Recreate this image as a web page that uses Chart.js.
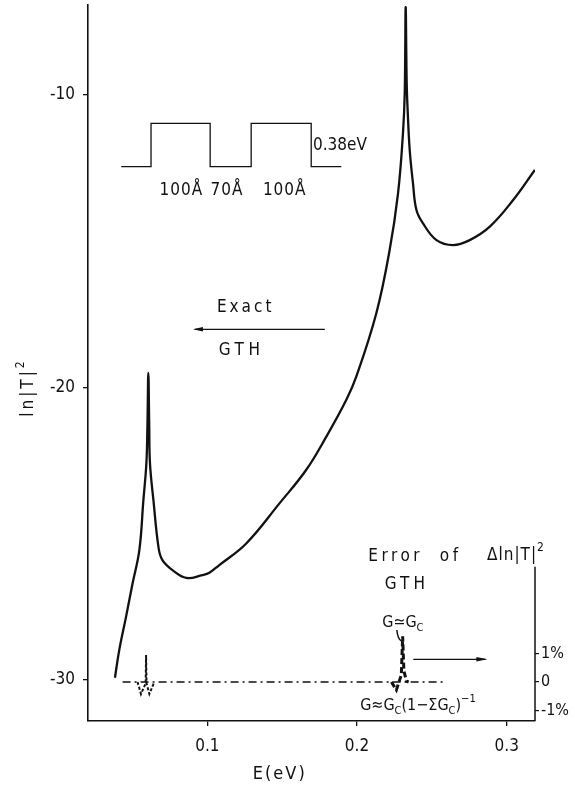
<!DOCTYPE html>
<html><head><meta charset="utf-8">
<script src="https://cdn.jsdelivr.net/npm/chart.js@4.4.1/dist/chart.umd.min.js"></script>
<style>html,body{margin:0;padding:0;background:#fff}</style>
</head><body>
<canvas id="c" width="575" height="786"></canvas>
<script>
// ---- data ----
const energy = [0.0383, 0.0412, 0.0457, 0.0501, 0.0546, 0.0573, 0.0593, 0.0600, 0.0606, 0.0612, 0.0617, 0.0640, 0.0675, 0.0700, 0.0767, 0.0860, 0.0967, 0.1014, 0.1080, 0.1260, 0.1482, 0.1660, 0.1795, 0.1928, 0.1995, 0.2129, 0.2218, 0.2274, 0.2307, 0.2319, 0.2325, 0.2332, 0.2339, 0.2352, 0.2374, 0.2397, 0.2441, 0.2531, 0.2642, 0.2753, 0.2887, 0.3043, 0.3188];
const lnT2 =   [-29.92, -28.97, -27.84, -26.69, -25.56, -23.85, -22.59, -21.3, -19.5, -21.3, -22.59, -23.85, -25.5, -25.9, -26.24, -26.51, -26.41, -26.33, -26.07, -25.33, -23.96, -22.82, -21.68, -20.43, -19.63, -17.46, -15.30, -13.36, -11.31, -9.9, -7.0, -9.6, -10.6, -11.88, -13.02, -13.93, -14.39, -14.96, -15.13, -14.96, -14.50, -13.59, -12.56];
const errBaseE = [0.0434, 0.2586];
const errBaseV = [0, 0];
const err1E = [0.0534, 0.0557, 0.0588, 0.0591, 0.0594, 0.0613, 0.0646];
const err1V = [0, -0.42, -0.05, 0.95, -0.05, -0.42, 0];
const err2E = [0.2230, 0.2263, 0.2296, 0.2305, 0.2313, 0.2330, 0.2345];
const err2V = [0, -0.28, 0.25, 1.6, 0.4, 0.03, 0];
const xTicks = [0.1, 0.2, 0.3];
const xTickLabels = ['0.1', '0.2', '0.3'];
const yTicks = [-30, -20, -10];
const y2Ticks = [-1, 0, 1];
const y2TickLabels = ['-1%', '0', '1%'];
// inset potential profile (schematic), in axis units
const profE = [0.0425, 0.0624, 0.0624, 0.1019, 0.1019, 0.1293, 0.1293, 0.1694, 0.1694, 0.1895];
const profV = [-12.45, -12.45, -10.97, -10.97, -12.45, -12.45, -10.97, -10.97, -12.45, -12.45];

const FONT = "'Liberation Sans Narrow','DejaVu Sans Condensed','Liberation Sans',sans-serif";
const INK = '#111';

function pts(xs, ys){ return xs.map((x,i)=>({x:x, y:ys[i]})); }

function runs(ctx, parts, cx, cy, size, ls){
  ctx.letterSpacing = (ls||0)+'px';
  let total = 0;
  const ws = parts.map(([t,m])=>{ ctx.font = (m? Math.round(size*0.68): size)+'px '+FONT; const w = ctx.measureText(t).width; total += w; return w; });
  let x = cx - total/2;
  ctx.textAlign='left'; ctx.textBaseline='middle';
  parts.forEach(([t,m],i)=>{
    ctx.font = (m? Math.round(size*0.68): size)+'px '+FONT;
    ctx.fillText(t, x, cy + (m===1 ? size*0.32 : m===2 ? -size*0.42 : 0));
    x += ws[i];
  });
  ctx.letterSpacing='0px';
}

function noPad(s){ s.paddingTop = 0; s.paddingBottom = 0; s.paddingLeft = 0; s.paddingRight = 0; }

const annot = {
  id:'annot',
  afterDraw(chart){
    const ctx = chart.ctx, sx = chart.scales.x, sy = chart.scales.y, sy2 = chart.scales.y2;
    const X = v=>sx.getPixelForValue(v), Y = v=>sy.getPixelForValue(v), Y2 = v=>sy2.getPixelForValue(v);
    ctx.save();
    ctx.strokeStyle = INK; ctx.fillStyle = INK;
    // partial right axis line
    ctx.lineWidth = 1.5;
    ctx.beginPath(); ctx.moveTo(X(sx.max), Y2(4.04)); ctx.lineTo(X(sx.max), chart.chartArea.bottom); ctx.stroke();
    // inset profile
    ctx.lineWidth = 1.3;
    ctx.beginPath();
    profE.forEach((e,i)=>{ const px=X(e), py=Y(profV[i]); i? ctx.lineTo(px,py) : ctx.moveTo(px,py); });
    ctx.stroke();
    // inset labels
    runs(ctx, [['100Å',0]], X(0.0826), Y(-13.28), 17, 1);
    runs(ctx, [['70Å',0]], X(0.1132), Y(-13.28), 17, 1);
    runs(ctx, [['100Å',0]], X(0.1517), Y(-13.28), 17, 1);
    ctx.font = '17px '+FONT; ctx.textAlign='left'; ctx.textBaseline='middle';
    ctx.fillText('0.38eV', X(0.1706), Y(-11.74));
    // Exact / GTH with left arrow
    runs(ctx, [['Exact',0]], X(0.1256), Y(-17.28), 17, 3);
    runs(ctx, [['GTH',0]], X(0.1229), Y(-18.75), 17, 4.5);
    ctx.lineWidth = 1.3;
    const ay = Y(-18.01);
    ctx.beginPath(); ctx.moveTo(X(0.0904)+2, ay); ctx.lineTo(X(0.1785), ay); ctx.stroke();
    ctx.beginPath(); ctx.moveTo(X(0.0904), ay); ctx.lineTo(X(0.0904)+10, ay-2.2); ctx.lineTo(X(0.0904)+10, ay+2.2); ctx.closePath(); ctx.fill();
    // Error of GTH
    runs(ctx, [['Error  of',0]], X(0.2387), Y(-25.795), 17, 3.5);
    runs(ctx, [['GTH',0]], X(0.2333), Y(-26.752), 17, 4);
    runs(ctx, [['Δln|T|',0],['2',2]], X(0.3062), Y(-25.73), 17, 1);
    runs(ctx, [['G≃G',0],['C',1]], X(0.2306), Y(-28.05), 16, 0);
    runs(ctx, [['G≈G',0],['C',1],['(1−ΣG',0],['C',1],[')',0],['−1',2]], X(0.2407), Y(-30.889), 16, 0);
    // pointer from G≃Gc
    ctx.lineWidth = 1.5;
    ctx.beginPath(); ctx.moveTo(X(0.2266), Y(-28.29)); ctx.quadraticCurveTo(X(0.2272), Y(-28.6), X(0.2296), Y(-28.66)); ctx.stroke();
    // right arrow
    const ry = Y(-29.29);
    ctx.lineWidth = 1.3;
    ctx.beginPath(); ctx.moveTo(X(0.2376), ry); ctx.lineTo(X(0.2871)-2, ry); ctx.stroke();
    ctx.beginPath(); ctx.moveTo(X(0.2871), ry); ctx.lineTo(X(0.2871)-11, ry-2.2); ctx.lineTo(X(0.2871)-11, ry+2.2); ctx.closePath(); ctx.fill();
    // axis titles
    runs(ctx, [['E(eV)',0]], X(0.1484), Y(-33.21), 18, 2);
    ctx.translate(X(-0.0195), Y(-20.0));
    ctx.rotate(-Math.PI/2);
    runs(ctx, [['ln|T|',0],['2',2]], 0, 0, 17, 3);
    ctx.restore();
  }
};

const tickFont = {family: FONT, size: 17};
new Chart(document.getElementById('c'), {
  type: 'scatter',
  data: { datasets: [
    { label:'Exact / GTH', data: pts(energy, lnT2), showLine:true, borderColor:INK, borderWidth:2.3, pointRadius:0, tension:0.4, borderJoinStyle:'round', yAxisID:'y' },
    { label:'Error of GTH (baseline)', data: pts(errBaseE, errBaseV), showLine:true, borderColor:INK, borderWidth:1.6, borderDash:[8,4,2,4], pointRadius:0, yAxisID:'y2' },
    { label:'Error near 1st resonance', data: pts(err1E, err1V), showLine:true, borderColor:INK, borderWidth:2, borderDash:[3,2], pointRadius:0, yAxisID:'y2' },
    { label:'Error near 2nd resonance', data: pts(err2E, err2V), showLine:true, borderColor:INK, borderWidth:3, borderDash:[6,3], pointRadius:0, yAxisID:'y2' }
  ]},
  options: {
    responsive:false, animation:false, devicePixelRatio:1,
    layout:{ padding:{ top:5, left:0, right:0, bottom:0 } },
    plugins:{ legend:{display:false}, tooltip:{enabled:false} },
    scales:{
      x:{ type:'linear', position:'bottom', min:0.0203, max:0.3189,
        afterBuildTicks: s=>{ s.ticks = xTicks.map(v=>({value:v})); },
        afterFit: s=>{ s.height = 65; noPad(s); },
        ticks:{ font:tickFont, color:INK, padding:10, maxRotation:0, autoSkip:false,
          callback:(v)=>{ const i = xTicks.indexOf(Math.round(v*10)/10); return i>=0 ? xTickLabels[i] : ''; } },
        grid:{ display:true, drawOnChartArea:false, drawTicks:true, tickLength:5, color:INK, lineWidth:1.3 },
        border:{ display:true, color:INK, width:1.6 } },
      y:{ type:'linear', position:'left', min:-31.40, max:-6.923,
        afterBuildTicks: s=>{ s.ticks = yTicks.map(v=>({value:v})); },
        afterFit: s=>{ s.width = 88; noPad(s); },
        ticks:{ font:tickFont, color:INK, padding:8, autoSkip:false, callback:(v)=>String(v) },
        grid:{ display:true, drawOnChartArea:false, drawTicks:true, tickLength:5, color:INK, lineWidth:1.3 },
        border:{ display:true, color:INK, width:1.6 } },
      y2:{ type:'linear', position:'right', min:-1.368, max:23.75,
        afterBuildTicks: s=>{ s.ticks = y2Ticks.map(v=>({value:v})); },
        afterFit: s=>{ s.width = 40; noPad(s); },
        ticks:{ font:{family:FONT, size:16}, color:INK, padding:2, autoSkip:false,
          callback:(v)=>{ const i = y2Ticks.indexOf(Math.round(v)); return i>=0 ? y2TickLabels[i] : ''; } },
        grid:{ display:true, drawOnChartArea:false, drawTicks:true, tickLength:4, color:INK, lineWidth:1.2 },
        border:{ display:false } }
    }
  },
  plugins:[annot]
});
</script>
</body></html>
